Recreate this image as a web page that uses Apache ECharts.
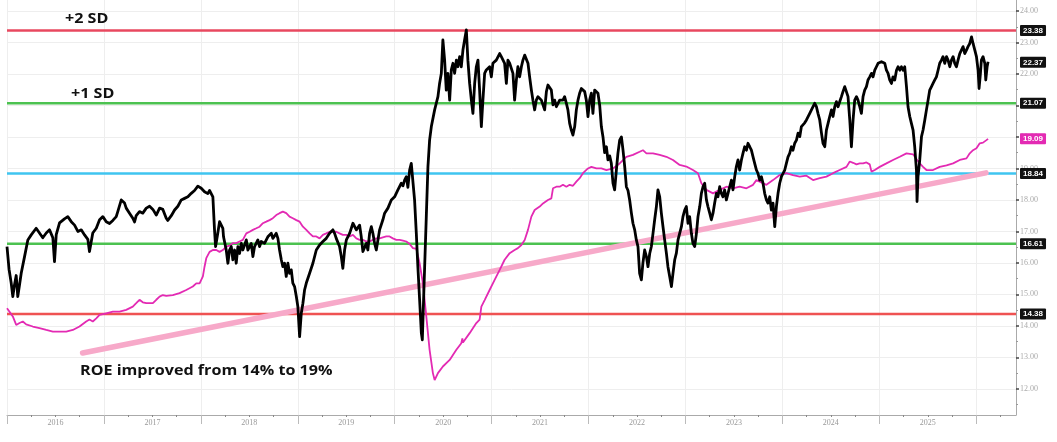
<!DOCTYPE html>
<html>
<head>
<meta charset="utf-8">
<script src="https://cdn.jsdelivr.net/npm/echarts@6/dist/echarts.min.js"></script>
<style>html,body{margin:0;padding:0;background:#fff}#c{width:1057px;height:442px}</style>
</head>
<body>
<div id="c"></div>
<script>
// ---- data (decimal year, value) ----
const forwardPE = [
[2016.000,16.52],[2016.021,15.8],[2016.043,15.37],[2016.060,14.93],[2016.077,15.3],[2016.095,15.6],[2016.111,14.93],[2016.129,15.3],[2016.147,15.68],[2016.181,16.2],[2016.215,16.73],[2016.250,16.89],[2016.301,17.1],[2016.335,16.95],[2016.369,16.8],[2016.405,16.95],[2016.439,17.05],[2016.473,16.8],[2016.490,16.04],[2016.508,16.9],[2016.542,17.27],[2016.593,17.4],[2016.627,17.47],[2016.663,17.31],[2016.697,17.2],[2016.731,17.0],[2016.766,17.05],[2016.800,16.89],[2016.834,16.75],[2016.851,16.36],[2016.885,16.95],[2016.921,17.1],[2016.955,17.37],[2016.989,17.47],
[2017.024,17.31],[2017.058,17.25],[2017.092,17.35],[2017.127,17.47],[2017.143,17.63],[2017.179,18.0],[2017.213,17.9],[2017.230,17.74],[2017.264,17.58],[2017.298,17.42],[2017.316,17.3],[2017.333,17.5],[2017.367,17.63],[2017.401,17.58],[2017.437,17.74],[2017.471,17.8],[2017.505,17.7],[2017.540,17.52],[2017.574,17.74],[2017.608,17.7],[2017.643,17.42],[2017.659,17.35],[2017.695,17.5],[2017.729,17.68],[2017.763,17.8],[2017.798,18.0],[2017.832,18.05],[2017.866,18.1],[2017.901,18.21],[2017.935,18.3],[2017.969,18.44],
[2018.004,18.37],[2018.038,18.26],[2018.072,18.2],[2018.090,18.3],[2018.107,18.33],[2018.124,18.1],[2018.141,17.05],[2018.152,16.52],[2018.175,16.95],[2018.193,17.31],[2018.211,17.35],[2018.227,17.1],[2018.234,16.83],[2018.262,16.41],[2018.279,15.99],[2018.296,16.41],[2018.314,16.52],[2018.330,16.1],[2018.348,16.41],[2018.365,15.99],[2018.382,16.52],[2018.399,16.3],[2018.417,16.62],[2018.433,16.41],[2018.469,16.73],[2018.485,16.41],[2018.520,16.62],[2018.537,16.2],[2018.554,16.52],[2018.588,16.73],[2018.606,16.52],[2018.623,16.68],[2018.657,16.62],[2018.691,16.83],[2018.727,16.94],[2018.743,16.78],[2018.778,16.94],[2018.795,16.78],[2018.812,16.41],[2018.830,16.1],[2018.846,15.88],[2018.864,15.99],[2018.881,15.57],[2018.898,15.99],[2018.915,15.67],[2018.933,15.78],[2018.949,15.36],[2018.967,15.25],[2018.985,14.93],
[2019.001,14.61],[2019.019,13.66],[2019.036,14.4],[2019.053,14.72],[2019.070,15.14],[2019.088,15.36],[2019.122,15.67],[2019.156,15.99],[2019.191,16.41],[2019.225,16.57],[2019.259,16.68],[2019.294,16.78],[2019.328,16.94],[2019.362,17.05],[2019.380,16.94],[2019.397,16.78],[2019.431,16.52],[2019.449,16.2],[2019.465,15.83],[2019.483,16.41],[2019.501,16.73],[2019.535,16.94],[2019.569,17.26],[2019.586,17.31],[2019.604,17.05],[2019.638,17.2],[2019.655,16.83],[2019.672,16.36],[2019.689,16.3],[2019.707,16.62],[2019.723,16.41],[2019.741,16.94],[2019.759,17.15],[2019.775,16.94],[2019.793,16.62],[2019.810,16.41],[2019.827,16.73],[2019.844,17.05],[2019.878,17.37],[2019.896,17.58],[2019.930,17.74],[2019.965,18.0],[2019.999,18.1],
[2020.033,18.32],[2020.068,18.53],[2020.085,18.45],[2020.102,18.63],[2020.120,18.74],[2020.136,18.4],[2020.154,18.95],[2020.171,19.16],[2020.188,19.2],[2020.205,18.0],[2020.223,16.94],[2020.239,15.88],[2020.257,14.83],[2020.275,13.77],[2020.285,13.56],[2020.298,14.83],[2020.309,15.88],[2020.326,17.47],[2020.343,19.06],[2020.360,19.9],[2020.378,20.33],[2020.394,20.3],[2020.412,20.86],[2020.429,21.07],[2020.446,21.28],[2020.463,21.7],[2020.481,22.02],[2020.497,23.08],[2020.515,22.44],[2020.532,21.49],[2020.549,22.02],[2020.567,21.17],[2020.584,22.13],[2020.601,22.34],[2020.618,22.02],[2020.636,22.44],[2020.652,22.23],[2020.670,22.55],[2020.687,22.23],[2020.704,22.76],[2020.721,23.08],[2020.739,23.4],[2020.755,22.44],[2020.773,21.7],[2020.791,21.17],[2020.807,20.75],[2020.825,21.7],[2020.842,22.23],[2020.859,22.44],[2020.876,21.49],[2020.894,20.33],[2020.910,21.17],[2020.928,22.02],[2020.945,22.13],[2020.979,22.23],[2020.997,21.91],
[2021.013,22.34],[2021.048,22.44],[2021.083,22.65],[2021.100,22.55],[2021.117,22.5],[2021.134,22.34],[2021.152,21.7],[2021.168,22.44],[2021.186,22.34],[2021.220,22.02],[2021.237,21.17],[2021.255,21.8],[2021.271,22.23],[2021.289,21.91],[2021.307,22.23],[2021.323,22.44],[2021.341,22.6],[2021.358,22.55],[2021.375,22.34],[2021.392,21.91],[2021.410,21.49],[2021.426,21.17],[2021.444,20.86],[2021.461,21.17],[2021.478,21.28],[2021.513,21.17],[2021.530,21.22],[2021.547,20.86],[2021.565,21.44],[2021.581,21.65],[2021.599,21.6],[2021.616,21.49],[2021.633,21.02],[2021.650,21.17],[2021.668,20.96],[2021.684,20.91],[2021.702,21.17],[2021.719,21.22],[2021.736,21.17],[2021.753,21.28],[2021.771,21.07],[2021.787,20.86],[2021.805,20.43],[2021.822,20.22],[2021.839,20.06],[2021.857,20.33],[2021.874,20.86],[2021.891,21.17],[2021.908,21.39],[2021.926,21.54],[2021.942,21.49],[2021.960,21.44],[2021.977,21.17],[2021.994,20.65],
[2022.011,21.17],[2022.029,21.39],[2022.045,20.75],[2022.063,21.49],[2022.081,21.54],[2022.097,21.39],[2022.115,21.0],[2022.132,20.33],[2022.149,20.0],[2022.166,19.5],[2022.184,19.69],[2022.200,19.27],[2022.218,19.4],[2022.235,19.16],[2022.252,18.53],[2022.269,18.32],[2022.287,18.95],[2022.303,19.48],[2022.321,19.9],[2022.339,20.0],[2022.355,19.6],[2022.373,19.06],[2022.390,18.42],[2022.407,18.3],[2022.424,18.0],[2022.442,17.58],[2022.458,17.26],[2022.476,17.05],[2022.493,16.73],[2022.510,16.52],[2022.527,15.67],[2022.545,15.46],[2022.561,16.0],[2022.579,16.41],[2022.597,16.2],[2022.613,15.88],[2022.631,16.3],[2022.648,16.52],[2022.665,16.94],[2022.682,17.37],[2022.700,17.79],[2022.716,18.32],[2022.734,18.1],[2022.751,17.58],[2022.768,17.15],[2022.785,16.73],[2022.803,16.31],[2022.819,15.88],[2022.837,15.57],[2022.855,15.25],[2022.871,15.67],[2022.889,16.1],[2022.906,16.31],[2022.923,16.73],[2022.940,16.94],[2022.958,17.15],[2022.974,17.47],[2022.992,17.68],
[2023.009,17.79],[2023.026,17.26],[2023.043,17.47],[2023.061,16.94],[2023.077,16.62],[2023.095,16.52],[2023.113,16.94],[2023.129,17.47],[2023.147,17.79],[2023.164,18.21],[2023.181,18.42],[2023.198,18.53],[2023.216,18.0],[2023.232,17.79],[2023.250,17.58],[2023.267,17.37],[2023.284,17.58],[2023.301,17.9],[2023.319,18.21],[2023.335,18.1],[2023.353,18.42],[2023.370,18.21],[2023.387,18.1],[2023.404,18.32],[2023.422,18.0],[2023.439,18.21],[2023.456,18.42],[2023.474,18.63],[2023.490,18.32],[2023.508,18.74],[2023.525,19.06],[2023.542,19.27],[2023.559,18.95],[2023.577,19.27],[2023.593,19.48],[2023.611,19.69],[2023.629,19.58],[2023.645,19.8],[2023.663,19.69],[2023.680,19.58],[2023.697,19.37],[2023.714,19.16],[2023.732,18.95],[2023.748,18.84],[2023.766,18.63],[2023.783,18.74],[2023.800,18.53],[2023.817,18.21],[2023.835,18.0],[2023.851,17.9],[2023.869,18.1],[2023.886,17.68],[2023.903,17.9],[2023.921,17.15],[2023.938,17.79],[2023.955,18.21],[2023.972,18.53],[2023.990,18.74],
[2024.006,18.84],[2024.024,18.95],[2024.041,19.16],[2024.058,19.37],[2024.075,19.48],[2024.093,19.69],[2024.109,19.58],[2024.127,19.8],[2024.145,19.9],[2024.161,20.12],[2024.179,20.01],[2024.196,20.33],[2024.213,20.33],[2024.230,20.45],[2024.248,20.54],[2024.264,20.6],[2024.282,20.75],[2024.316,20.96],[2024.333,21.07],[2024.351,20.96],[2024.367,20.75],[2024.385,20.54],[2024.403,20.12],[2024.419,19.8],[2024.437,19.69],[2024.454,20.22],[2024.471,20.43],[2024.488,20.65],[2024.506,20.86],[2024.522,20.65],[2024.540,20.96],[2024.557,21.12],[2024.574,20.96],[2024.591,21.12],[2024.609,21.28],[2024.625,21.44],[2024.643,21.6],[2024.661,21.65],[2024.677,21.28],[2024.695,20.54],[2024.712,19.69],[2024.729,20.54],[2024.746,21.17],[2024.764,21.28],[2024.780,21.17],[2024.798,20.96],[2024.815,20.75],[2024.832,21.28],[2024.849,21.49],[2024.867,21.6],[2024.883,21.81],[2024.901,21.91],[2024.919,22.02],[2024.935,21.91],[2024.953,22.12],[2024.970,22.23],[2024.987,22.34],
[2025.004,22.28],[2025.022,22.39],[2025.038,22.44],[2025.056,22.34],[2025.073,22.12],[2025.090,22.02],[2025.107,21.81],[2025.125,21.7],[2025.141,21.91],[2025.159,21.81],[2025.177,22.12],[2025.193,22.23],[2025.211,22.12],[2025.228,22.23],[2025.245,22.12],[2025.262,22.23],[2025.280,21.6],[2025.296,20.96],[2025.314,20.65],[2025.331,20.43],[2025.348,20.22],[2025.365,19.69],[2025.383,18.95],[2025.389,17.95],[2025.399,18.74],[2025.417,19.27],[2025.435,20.01],[2025.451,20.22],[2025.469,20.54],[2025.486,20.86],[2025.503,21.17],[2025.520,21.49],[2025.538,21.6],[2025.554,21.7],[2025.572,21.81],[2025.589,21.91],[2025.606,22.12],[2025.623,22.34],[2025.641,22.44],[2025.657,22.55],[2025.675,22.34],[2025.693,22.55],[2025.709,22.44],[2025.727,22.23],[2025.744,22.44],[2025.761,22.55],[2025.778,22.34],[2025.796,22.23],[2025.812,22.44],[2025.830,22.65],[2025.847,22.76],[2025.864,22.87],[2025.881,22.65],[2025.899,22.76],[2025.915,22.87],[2025.933,22.97],[2025.951,23.18],[2025.967,22.97],[2025.985,22.76],
[2026.002,22.55],[2026.019,22.12],[2026.029,21.54],[2026.043,22.02],[2026.053,22.44],[2026.070,22.55],[2026.088,22.34],[2026.098,21.81],[2026.112,22.23],[2026.122,22.39]
];

const roe = [
[2016.000,13.71],[2016.026,13.6],[2016.060,13.45],[2016.095,13.18],[2016.129,13.24],[2016.163,13.29],[2016.198,13.2],[2016.266,13.13],[2016.335,13.08],[2016.405,13.02],[2016.473,12.97],[2016.542,12.97],[2016.611,12.97],[2016.679,13.02],[2016.748,13.13],[2016.817,13.29],[2016.851,13.35],[2016.885,13.29],[2016.921,13.39],[2016.955,13.5],
[2017.024,13.55],[2017.092,13.6],[2017.161,13.6],[2017.230,13.66],[2017.298,13.76],[2017.333,13.87],[2017.367,13.98],[2017.401,13.9],[2017.437,13.87],[2017.505,13.87],[2017.540,13.98],[2017.574,14.08],[2017.608,14.13],[2017.643,14.1],[2017.711,14.13],[2017.780,14.19],[2017.849,14.29],[2017.917,14.4],[2017.953,14.5],[2017.987,14.5],
[2018.021,14.72],[2018.038,15.03],[2018.056,15.3],[2018.090,15.5],[2018.124,15.56],[2018.159,15.56],[2018.193,15.5],[2018.227,15.56],[2018.262,15.67],[2018.296,15.7],[2018.330,15.78],[2018.365,15.78],[2018.399,15.83],[2018.433,15.88],[2018.469,16.09],[2018.503,16.14],[2018.537,16.2],[2018.572,16.25],[2018.606,16.3],[2018.640,16.41],[2018.675,16.46],[2018.709,16.51],[2018.743,16.57],[2018.778,16.67],[2018.812,16.73],[2018.846,16.78],[2018.881,16.73],[2018.915,16.62],[2018.949,16.57],[2018.985,16.51],
[2019.019,16.46],[2019.053,16.3],[2019.088,16.2],[2019.122,16.09],[2019.156,15.99],[2019.191,15.99],[2019.225,15.93],[2019.259,16.04],[2019.294,16.09],[2019.328,16.14],[2019.362,16.14],[2019.397,16.14],[2019.431,16.09],[2019.465,16.04],[2019.501,16.04],[2019.535,15.99],[2019.569,16.04],[2019.604,15.93],[2019.638,15.88],[2019.672,15.88],[2019.707,15.83],[2019.741,15.83],[2019.775,15.88],[2019.810,15.93],[2019.844,15.93],[2019.878,15.96],[2019.913,15.99],[2019.947,15.99],[2019.981,15.93],
[2020.017,15.88],[2020.051,15.88],[2020.085,15.86],[2020.120,15.83],[2020.154,15.75],[2020.188,15.62],[2020.223,15.6],[2020.257,15.14],[2020.291,14.5],[2020.326,13.45],[2020.360,12.39],[2020.394,11.65],[2020.412,11.43],[2020.446,11.65],[2020.497,11.86],[2020.567,12.07],[2020.636,12.39],[2020.687,12.6],[2020.698,12.75],[2020.704,12.62],[2020.721,12.65],[2020.773,12.92],[2020.842,13.24],[2020.876,13.35],[2020.894,13.76],[2020.928,13.97],[2020.979,14.29],
[2021.031,14.61],[2021.083,14.93],[2021.134,15.25],[2021.186,15.46],[2021.237,15.56],[2021.271,15.62],[2021.307,15.72],[2021.341,15.88],[2021.375,16.2],[2021.410,16.62],[2021.444,16.83],[2021.496,16.94],[2021.530,17.04],[2021.581,17.15],[2021.616,17.2],[2021.633,17.52],[2021.668,17.57],[2021.702,17.57],[2021.736,17.63],[2021.771,17.57],[2021.805,17.63],[2021.839,17.6],[2021.874,17.73],[2021.908,17.84],[2021.942,18.0],[2021.994,18.15],
[2022.029,18.2],[2022.081,18.15],[2022.132,18.15],[2022.184,18.1],[2022.252,18.15],[2022.321,18.31],[2022.390,18.52],[2022.458,18.58],[2022.527,18.68],[2022.561,18.73],[2022.597,18.63],[2022.665,18.63],[2022.734,18.58],[2022.803,18.52],[2022.871,18.42],[2022.940,18.26],
[2023.009,18.21],[2023.077,18.1],[2023.129,18.0],[2023.164,17.68],[2023.216,17.47],[2023.284,17.36],[2023.353,17.47],[2023.422,17.57],[2023.490,17.52],[2023.559,17.57],[2023.629,17.52],[2023.697,17.63],[2023.732,17.78],[2023.766,17.73],[2023.835,17.63],[2023.903,17.78],[2023.972,17.94],
[2024.041,18.0],[2024.109,17.94],[2024.179,17.89],[2024.248,17.92],[2024.316,17.78],[2024.385,17.84],[2024.454,17.89],[2024.522,18.0],[2024.591,18.1],[2024.661,18.2],[2024.695,18.37],[2024.729,18.33],[2024.764,18.28],[2024.798,18.31],[2024.832,18.31],[2024.867,18.34],[2024.901,18.28],[2024.919,18.05],[2024.953,18.1],
[2025.004,18.2],[2025.073,18.31],[2025.141,18.42],[2025.211,18.52],[2025.280,18.63],[2025.348,18.6],[2025.383,18.45],[2025.417,18.31],[2025.451,18.2],[2025.486,18.1],[2025.554,18.1],[2025.623,18.2],[2025.693,18.25],[2025.761,18.31],[2025.830,18.42],[2025.899,18.47],[2025.933,18.63],[2025.967,18.73],
[2026.002,18.79],[2026.036,18.95],[2026.070,18.97],[2026.105,19.05],[2026.122,19.09]
];

const roeTrend = [[2016.78,12.29],[2026.10,18.01]];

const sdLevels = [
  {name:'+2 SD', value:23.38, color:'#e8485f'},
  {name:'+1 SD', value:21.07, color:'#4cc250'},
  {name:'Mean',  value:18.84, color:'#3fc5f0'},
  {name:'-1 SD', value:16.61, color:'#4cc250'},
  {name:'-2 SD', value:14.38, color:'#ef5252'}
];
const lastPE = 22.37;
const lastROE = 19.09;
const yTicks = [12,13,14,15,16,17,18,19,20,21,22,23,24];
const yMinorTicks = [11.5,12.5,13.5,14.5,15.5,16.5,17.5,18.5,19.5,20.5,21.5,22.5,23.5];
const yearTicks = [2016,2017,2018,2019,2020,2021,2022,2023,2024,2025,2026];
const yearLabels = [2016.5,2017.5,2018.5,2019.5,2020.5,2021.5,2022.5,2023.5,2024.5,2025.5];
const quarterTicks = [];
yearTicks.forEach(y=>{[0.25,0.5,0.75].forEach(q=>{ if (y+q<2026.4) quarterTicks.push(y+q); });});

const X_MIN = 2016, X_MAX = 2026.41;
const Y_MIN = 11.17, Y_MAX = 24.35;
const ROE_OFFSET = 0.85;

const tagLabel = (bg) => ({
  show:true, position:'end', distance:4,
  color:'#fff', backgroundColor:bg, fontSize:8, fontFamily:'Liberation Sans', fontWeight:'bold',
  padding:[2,3,1,3], borderRadius:1, opacity:1
});

const series = [];
sdLevels.forEach(l => {
  series.push({
    type:'line', name:l.name, xAxisIndex:0, yAxisIndex:0, z:2,
    data:[[X_MIN,l.value],[X_MAX,l.value]], showSymbol:false, silent:true,
    lineStyle:{color:l.color, width:2.6},
    endLabel:Object.assign(tagLabel('#111'),{formatter:()=>l.value.toFixed(2)})
  });
});
series.push({
  type:'line', name:'ROE trend', xAxisIndex:0, yAxisIndex:2, z:3,
  data:roeTrend, showSymbol:false, lineStyle:{color:'#f7a9c9', width:5.5, cap:'round'}
});
series.push({
  type:'line', name:'ROE', xAxisIndex:0, yAxisIndex:2, z:4,
  data:roe, showSymbol:false, lineStyle:{color:'#e32ab3', width:1.8}
});
series.push({
  type:'line', name:'Forward P/E', xAxisIndex:0, yAxisIndex:0, z:5,
  data:forwardPE, showSymbol:false, lineStyle:{color:'#000', width:2.8, join:'round'}
});
// value tags at the right axis for the last readings (invisible lines, visible end labels)
series.push({
  type:'line', name:'PE tag', xAxisIndex:0, yAxisIndex:0, z:6, silent:true,
  data:[[X_MIN,lastPE],[X_MAX,lastPE]], showSymbol:false,
  lineStyle:{color:'rgba(0,0,0,0)', width:0},
  endLabel:Object.assign(tagLabel('#111'),{formatter:()=>lastPE.toFixed(2)})
});
series.push({
  type:'line', name:'ROE tag', xAxisIndex:0, yAxisIndex:2, z:6, silent:true,
  data:[[X_MIN,lastROE],[X_MAX,lastROE]], showSymbol:false,
  lineStyle:{color:'rgba(0,0,0,0)', width:0},
  endLabel:Object.assign(tagLabel('#e32ab3'),{formatter:()=>lastROE.toFixed(2)})
});

const chart = echarts.init(document.getElementById('c'), null, {renderer:'canvas'});
chart.setOption({
  animation:false,
  backgroundColor:'#fff',
  grid:{left:7, right:41, top:0, bottom:27, containLabel:false},
  xAxis:[
    {type:'value', min:X_MIN, max:X_MAX,
     axisLine:{show:true, lineStyle:{color:'#aaa', width:1}},
     axisTick:{show:true, customValues:yearTicks, length:9, lineStyle:{color:'#bbb'}},
     axisLabel:{show:true, customValues:yearLabels, formatter:v=>String(Math.floor(v)), color:'#999', fontSize:8, fontFamily:'Liberation Serif', margin:4},
     splitLine:{show:true, lineStyle:{color:'#eeeeee', width:1}}},
    {type:'value', min:X_MIN, max:X_MAX, position:'bottom',
     axisLine:{show:false}, axisLabel:{show:false}, splitLine:{show:false},
     axisTick:{show:true, customValues:quarterTicks, length:2, lineStyle:{color:'#888'}}}
  ],
  yAxis:[
    {type:'value', position:'right', min:Y_MIN, max:Y_MAX,
     axisLine:{show:true, lineStyle:{color:'#aaa', width:1}},
     axisTick:{show:true, customValues:yTicks, length:3, lineStyle:{color:'#444', width:1.5}},
     axisLabel:{show:true, customValues:yTicks, formatter:v=>v.toFixed(2), color:'#aaa', fontSize:8, fontFamily:'Liberation Serif', margin:4},
     splitLine:{show:true, lineStyle:{color:'#eeeeee', width:1}}},
    {type:'value', position:'right', min:Y_MIN, max:Y_MAX,
     axisLine:{show:false}, axisLabel:{show:false}, splitLine:{show:false},
     axisTick:{show:true, customValues:yMinorTicks, length:2, lineStyle:{color:'#999'}}},
    {type:'value', show:false, min:Y_MIN-ROE_OFFSET, max:Y_MAX-ROE_OFFSET}
  ],
  series:series,
  graphic:[
    {type:'text', x:65, y:12, scaleX:1.15, z:10, style:{text:'+2 SD', font:'bold 14px "Open Sans"', fill:'#111'}},
    {type:'text', x:71, y:87, scaleX:1.15, z:10, style:{text:'+1 SD', font:'bold 14px "Open Sans"', fill:'#111'}},
    {type:'text', x:80, y:364, scaleX:1.15, z:10, style:{text:'ROE improved from 14% to 19%', font:'bold 14px "Open Sans"', fill:'#111'}}
  ]
});
</script>
</body>
</html>
